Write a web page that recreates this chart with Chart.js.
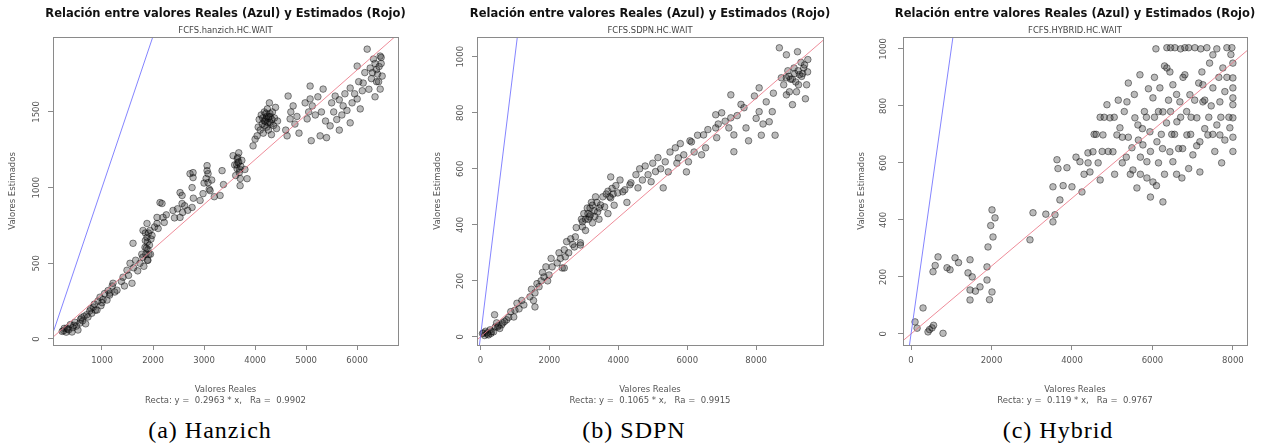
<!DOCTYPE html>
<html>
<head>
<meta charset="utf-8">
<script src="https://cdn.jsdelivr.net/npm/chart.js@4.4.1/dist/chart.umd.min.js"></script>
<style>
  body { margin: 0; background: #fff; width: 1270px; height: 445px; position: relative; overflow: hidden; }
  canvas { position: absolute; top: 0; }
  .cap { position: absolute; top: 416px; width: 220px; text-align: center; font: 24px 'Liberation Serif', serif; letter-spacing: 1px; line-height: 28px; color: #000; }
</style>
</head>
<body>
<canvas id="panelA" width="451" height="410" style="left:0px"></canvas>
<canvas id="panelB" width="440" height="410" style="left:430px"></canvas>
<canvas id="panelC" width="440" height="410" style="left:855px"></canvas>
<div class="cap" style="left:100px">(a) Hanzich</div>
<div class="cap" style="left:524px">(b) SDPN</div>
<div class="cap" style="left:948px">(c) Hybrid</div>
<script>
const hanzichPoints = [
  [220,50],[250,55],[260,70],[300,45],[314,72],[330,65],[350,60],[380,95],[412,46],[430,75],[450,90],[470,110],[500,85],[529,59],[569,105],[580,130],[600,140],[620,120],[650,150],[680,100],[700,160],[725,145],
  [760,185],[780,200],[800,170],[830,210],[850,230],[870,190],[902,191],[920,250],[961,276],[980,220],[1000,240],[1020,260],[1050,300],[1098,257],[1120,320],[1150,290],[1157,303],[1200,350],[1216,368],[1250,310],[1294,322],
  [1380,380],[1412,408],[1440,350],[1490,454],[1520,420],[1549,500],[1588,368],[1608,632],[1620,470],[1660,520],[1700,450],[1745,500],[1780,560],
  [1800,540],[1804,717],[1820,480],[1843,605],[1850,650],[1850,700],[1860,560],[1870,600],[1882,671],[1882,763],[1890,520],[1890,640],[1900,590],[1900,520],[1910,700],[1920,560],[1930,620],[1941,717],[1950,560],[1960,660],[1980,684],
  [2030,740],[2078,763],[2078,803],[2100,730],[2137,901],[2176,895],[2196,803],[2220,770],[2260,820],
  [2392,849],[2420,800],[2480,860],[2530,967],[2529,803],[2569,895],[2569,948],[2580,836],[2620,880],[2680,850],[2725,1092],[2765,1000],[2765,869],[2784,1066],[2784,1099],[2790,930],
  [2922,915],[2980,960],[3000,1030],[3040,1060],[3059,1112],[3059,1145],[3078,1092],[3078,1033],[3100,990],[3118,980],[3150,1050],[3200,940],[3314,948],[3353,1112],[3380,1020],
  [3569,1211],[3600,1150],[3620,1080],[3640,1150],[3647,1125],[3650,1190],[3660,1200],[3667,1165],[3680,1230],[3680,1170],[3690,1100],[3700,1120],[3706,1013],[3710,1060],[3720,1140],[3740,1180],[3800,1120],[3843,1059],
  [3960,1276],[4000,1320],[4039,1342],[4060,1400],[4080,1450],[4100,1380],[4120,1480],[4140,1420],[4150,1460],[4160,1360],[4180,1500],[4180,1440],[4190,1410],[4200,1440],[4210,1490],[4216,1454],[4230,1400],[4230,1470],[4240,1520],[4250,1430],[4255,1461],[4260,1380],[4270,1470],[4280,1560],[4290,1430],[4290,1490],[4300,1470],[4310,1420],[4320,1350],[4330,1450],[4340,1500],[4360,1410],[4380,1460],[4400,1530],[4420,1390],[4440,1440],
  [4600,1380],[4627,1342],[4647,1605],[4686,1454],[4700,1500],[4745,1540],[4780,1420],[4820,1470],[4860,1360],
  [4980,1560],[5020,1454],[5050,1500],[5078,1671],[5078,1586],[5100,1310],[5120,1540],[5180,1480],[5230,1600],[5274,1342],[5300,1500],[5333,1651],[5380,1440],[5400,1330],
  [5470,1408],[5500,1560],[5540,1500],[5569,1605],[5600,1450],[5650,1580],[5650,1380],[5700,1480],[5725,1540],[5760,1620],[5800,1510],
  [5863,1658],[5863,1428],[5900,1560],[5950,1620],[6000,1586],[6000,1803],[6030,1700],[6060,1520],[6100,1640],[6118,1691],[6150,1760],
  [6196,1915],[6230,1650],[6255,1790],[6280,1720],[6300,1760],[6320,1850],[6350,1600],[6350,1820],[6380,1780],[6380,1700],[6400,1750],[6420,1700],[6430,1800],[6451,1869],[6451,1651],[6470,1820],[6470,1860],[6490,1737]
];
const sdpnPoints = [
  [60,12],[88,14],[120,5],[150,20],[200,10],[200,15],[234,7],[280,25],[300,12],[320,18],[381,18],[410,79],[430,35],[469,50],[500,35],[520,40],[560,30],[615,43],[650,50],
  [700,55],[762,61],[820,70],[880,90],[967,71],[1000,95],[1060,120],[1120,100],[1200,130],[1260,114],
  [1436,143],[1480,170],[1540,130],[1582,107],[1582,157],[1640,190],[1700,179],[1760,200],[1800,230],[1846,214],[1900,250],[1950,200],[1992,221],[2050,280],[2080,250],
  [2227,264],[2280,300],[2320,280],[2373,246],[2432,311],[2432,246],[2461,286],[2500,340],[2560,300],[2620,350],[2680,330],[2725,321],[2754,357],[2780,390],
  [2900,336],[2900,328],[2930,420],[2959,393],[2959,411],[3000,440],[3050,380],[3050,420],[3100,460],[3120,440],[3130,420],[3164,429],[3180,460],[3194,436],[3220,480],[3250,470],[3252,407],[3300,450],[3320,430],[3340,500],[3380,480],[3399,446],[3440,420],[3450,460],[3487,471],
  [3550,500],[3604,464],[3650,510],[3700,440],[3700,520],[3750,500],[3780,571],[3780,496],[3820,530],[3850,510],[3880,470],[3930,540],[3985,514],[4050,560],[4131,518],[4190,525],[4250,480],[4336,543],[4366,550],
  [4512,579],[4571,532],[4620,600],[4700,560],[4780,610],[4864,579],[4952,554],[5000,620],[5080,590],[5150,640],[5230,600],[5303,532],[5362,625],[5450,589],[5500,660],
  [5655,675],[5700,620],[5743,639],[5800,690],[5900,650],[5977,589],[6036,625],[6080,700],[6124,696],[6200,660],[6300,720],[6417,650],[6475,721],[6534,675],[6600,740],
  [6827,746],[6827,793],[6856,711],[6900,760],[7000,800],[7100,770],[7208,746],[7266,864],[7266,782],[7354,721],[7354,661],[7450,790],[7560,830],[7647,818],[7706,746],[7780,700],
  [7950,860],[8000,780],[8087,889],[8087,804],[8150,720],[8200,760],[8292,839],[8380,768],[8468,804],[8500,870],[8550,720],
  [8673,1032],[8731,925],[8800,900],[8878,925],[8878,1007],[8878,864],[8920,950],[8950,930],[8966,875],[9000,920],[9050,920],[9054,829],[9100,960],[9120,940],[9150,910],[9171,875],[9200,1018],[9220,950],[9230,900],[9259,936],[9300,980],[9320,930],[9350,940],[9380,960],[9405,971],[9430,850],[9464,900],[9493,946],[9500,990]
];
const hybridPoints = [
  [99,42],[150,20],[298,91],[422,7],[460,15],[522,21],[560,30],[795,2],[546,218],[600,240],[671,270],
  [894,232],[969,225],[1093,267],[1180,250],[1416,214],[1466,260],[1466,154],[1466,119],[1520,200],[1600,150],[1714,165],[1888,189],[1888,235],[1913,305],[1950,120],[1980,380],[2012,147],[2012,435],[2037,340],[2087,407],
  [2956,330],[3031,425],[3350,420],[3527,393],[3577,418],[3527,516],[3627,611],[3652,580],[3700,470],[3780,520],[3875,583],[3999,516],
  [4100,620],[4198,604],[4248,498],[4300,560],[4397,635],[4400,600],[4447,568],[4521,639],[4550,700],[4600,700],[4650,600],[4700,540],[4700,760],[4750,640],[4770,698],[4800,760],[4869,804],[4900,640],[4944,758],
  [5018,639],[5050,760],[5060,560],[5117,698],[5150,820],[5192,723],[5250,600],[5250,690],[5300,780],[5350,620],[5366,814],[5400,690],[5400,880],[5450,560],[5490,653],[5515,575],[5550,840],[5564,758],[5614,512],[5639,733],[5650,680],[5689,909],[5700,620],[5700,560],[5750,720],[5763,663],[5800,780],[5850,760],[5862,604],[5862,547],[5900,860],[5937,709],[5950,480],[5950,640],[6086,1000],
  [6012,533],[6012,828],[6050,760],[6050,900],[6100,520],[6111,674],[6150,600],[6150,780],[6185,863],[6220,700],[6250,650],[6260,463],[6260,779],[6300,560],[6300,940],[6350,740],[6359,1004],[6359,933],[6400,820],[6434,919],[6434,639],[6450,1004],[6450,780],[6480,700],[6508,604],[6508,874],[6550,700],[6558,1004],[6600,840],[6600,560],[6607,744],[6650,650],[6682,814],[6700,1000],[6700,760],[6732,547],[6750,650],[6760,900],[6806,1004],[6806,909],[6850,780],[6856,698],[6900,580],[6900,1004],[6931,839],[6950,700],[6960,760],
  [7005,628],[7050,820],[7055,1004],[7100,660],[7104,758],[7150,880],[7179,568],[7179,674],[7200,1000],[7229,919],[7254,814],[7254,874],[7300,720],[7300,820],[7353,1004],[7378,698],[7400,760],[7420,950],[7460,800],[7500,700],[7502,979],[7502,863],[7550,640],[7600,1000],[7601,733],[7650,900],[7676,814],[7676,698],[7700,760],[7720,600],[7750,933],[7800,850],[7800,680],[7850,1004],[7850,900],[7900,760],[7924,723],[7950,980],[7974,1004],
  [7999,950],[7999,898],[7999,863],[7999,828],[7999,804],[7999,758],[8000,690],[8000,640]
];

const mainTitle = "Relación entre valores Reales (Azul) y Estimados (Rojo)";
const subTitles = ["FCFS.hanzich.HC.WAIT", "FCFS.SDPN.HC.WAIT", "FCFS.HYBRID.HC.WAIT"];
const slopes = [0.2963, 0.1065, 0.119];
const rectaLabels = [
  "Recta: y =  0.2963 * x,   Ra =  0.9902",
  "Recta: y =  0.1065 * x,   Ra =  0.9915",
  "Recta: y =  0.119 * x,   Ra =  0.9767"
];
const xRanges = [[40, 6800], [-100, 9940], [-200, 8350]];
const yRanges = [[-40, 1996], [-29, 1071], [-39, 1042]];
const xTicksA = [1000, 2000, 3000, 4000, 5000, 6000];
const xTicksB = [0, 2000, 4000, 6000, 8000];
const xTicksC = [0, 2000, 4000, 6000, 8000];
const yTicksA = [0, 500, 1000, 1500];
const yTicksB = [0, 200, 400, 600, 800, 1000];
const yTicksC = [0, 200, 400, 600, 800, 1000];

const fontFam = "'DejaVu Sans', sans-serif";
const axisGrey = "#8a8a8a";
const textGrey = "#555";

// R style box round the plot region
const boxFrame = {
  id: "boxFrame",
  afterDatasetsDraw(chart) {
    const { ctx, chartArea: a } = chart;
    ctx.save();
    ctx.strokeStyle = axisGrey;
    ctx.lineWidth = 1;
    ctx.strokeRect(Math.round(a.left) + 0.5, Math.round(a.top) + 0.5,
      Math.round(a.right - a.left), Math.round(a.bottom - a.top));
    ctx.restore();
  }
};

const makePanel = (id, pts, i, xTicks, yTicks, sideWidth, tickPad, titlePad) => {
  const xr = xRanges[i];
  const yr = yRanges[i];
  const slope = slopes[i];

  const config = {
    type: "scatter",
    data: {
      datasets: [
        {
          label: "Azul",
          data: [{ x: xr[0], y: xr[0] }, { x: xr[1], y: xr[1] }],
          showLine: true,
          pointRadius: 0,
          borderColor: "rgba(110, 110, 255, 0.85)",
          borderWidth: 1,
          clip: 0,
          order: 0,
        },
        {
          label: "Rojo",
          data: [{ x: xr[0], y: slope * xr[0] }, { x: xr[1], y: slope * xr[1] }],
          showLine: true,
          pointRadius: 0,
          borderColor: "rgba(235, 120, 135, 0.85)",
          borderWidth: 1,
          clip: 0,
          order: 0,
        },
        {
          label: "Valores",
          data: pts.map((p) => ({ x: p[0], y: p[1] })),
          pointRadius: 3.3,
          borderWidth: 0.8,
          backgroundColor: "rgba(40, 40, 40, 0.32)",
          borderColor: "rgba(0, 0, 0, 0.55)",
          order: 1,
        },
      ],
    },
    options: {
      responsive: false,
      animation: false,
      plugins: {
        legend: { display: false },
        tooltip: { enabled: false },
        title: {
          display: true,
          text: mainTitle,
          color: "#111",
          font: { family: fontFam, size: 11.5, weight: "bold", lineHeight: 1.2 },
          padding: { top: 7, bottom: 2 },
        },
        subtitle: {
          display: true,
          text: subTitles[i],
          color: "#444",
          font: { family: fontFam, size: 8.4, lineHeight: 1.2 },
          padding: { top: 3, bottom: 1 },
        },
      },
      scales: {
        x: {
          type: "linear",
          min: xr[0],
          max: xr[1],
          afterBuildTicks: (s) => { s.ticks = xTicks.map((v) => ({ value: v })); },
          afterFit: (s) => { s.height = 65; },
          border: { display: false },
          grid: { drawOnChartArea: false, drawTicks: true, tickLength: 5, color: axisGrey },
          ticks: {
            autoSkip: false,
            maxRotation: 0,
            padding: 6,
            color: textGrey,
            font: { family: fontFam, size: 8.5 },
            callback: (v) => String(v),
          },
          title: {
            display: true,
            text: ["Valores Reales", rectaLabels[i]],
            color: textGrey,
            font: { family: fontFam, size: 8.5, lineHeight: 1.3 },
            padding: { top: 0, bottom: 4 },
          },
        },
        y: {
          type: "linear",
          min: yr[0],
          max: yr[1],
          afterBuildTicks: (s) => { s.ticks = yTicks.map((v) => ({ value: v })); },
          afterFit: (s) => { s.width = sideWidth; },
          border: { display: false },
          grid: { drawOnChartArea: false, drawTicks: true, tickLength: 5, color: axisGrey },
          ticks: {
            autoSkip: false,
            minRotation: 90,
            maxRotation: 90,
            crossAlign: "center",
            padding: tickPad,
            color: textGrey,
            font: { family: fontFam, size: 8.5 },
            callback: (v) => String(v),
          },
          title: {
            display: true,
            text: "Valores Estimados",
            color: textGrey,
            font: { family: fontFam, size: 8.5, lineHeight: 1.2 },
            padding: { top: titlePad, bottom: 0 },
          },
        },
        // empty right axis so the plot sits centred under the titles
        ySpace: {
          type: "linear",
          position: "right",
          display: true,
          afterFit: (s) => { s.width = sideWidth; },
          border: { display: false },
          grid: { display: false },
          ticks: { display: false },
        },
      },
    },
    plugins: [boxFrame],
  };

  return new Chart(document.getElementById(id), config);
};

makePanel("panelA", hanzichPoints, 0, xTicksA, yTicksA, 53, 0, 8);
makePanel("panelB", sdpnPoints, 1, xTicksB, yTicksB, 47, 0, 3);
makePanel("panelC", hybridPoints, 2, xTicksC, yTicksC, 48, 3, 2);
</script>
</body>
</html>
